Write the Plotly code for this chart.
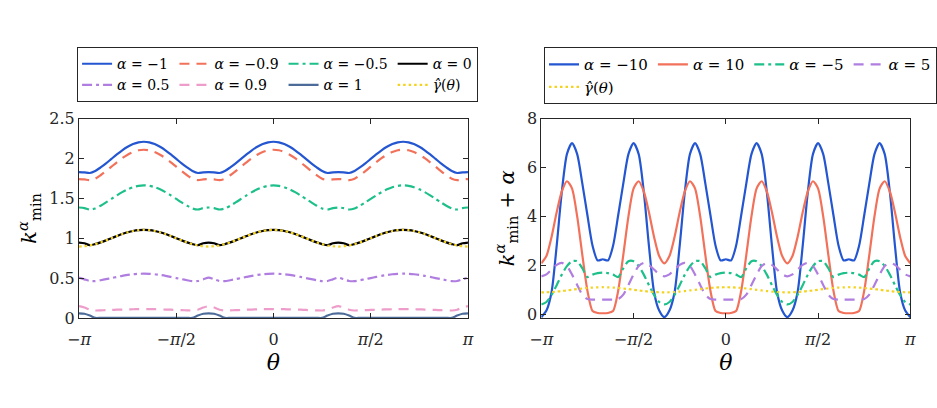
import numpy as np
import plotly.graph_objects as go

# ---------------- data ----------------
THETA_DEG = np.arange(-180, 181, 5)          # x grid, degrees
THETA = np.deg2rad(THETA_DEG)

X_TICKS = [-np.pi, -np.pi / 2, 0, np.pi / 2, np.pi]
X_TICK_TEXT = ["\u2212<i>\u03c0</i>", "\u2212<i>\u03c0</i>/2", "0", "<i>\u03c0</i>/2", "<i>\u03c0</i>"]
Y1_TICKS = [0, 0.5, 1, 1.5, 2, 2.5]
Y1_TICK_TEXT = ["0", "0.5", "1", "1.5", "2", "2.5"]
Y2_TICKS = [0, 2, 4, 6, 8]
Y2_TICK_TEXT = ["0", "2", "4", "6", "8"]

# left panel: k_min^alpha
K_M1 = [1.830, 1.826, 1.818, 1.843, 1.888, 1.939, 1.995, 2.051, 2.103, 2.147, 2.181, 2.203, 2.210,
        2.203, 2.181, 2.147, 2.103, 2.051, 1.995, 1.939, 1.888, 1.843, 1.818, 1.826, 1.830,
        1.826, 1.818, 1.843, 1.888, 1.939, 1.995, 2.051, 2.103, 2.147, 2.181, 2.203, 2.210,
        2.203, 2.181, 2.147, 2.103, 2.051, 1.995, 1.939, 1.888, 1.843, 1.818, 1.826, 1.830,
        1.826, 1.818, 1.843, 1.888, 1.939, 1.995, 2.051, 2.103, 2.147, 2.181, 2.203, 2.210,
        2.203, 2.181, 2.147, 2.103, 2.051, 1.995, 1.939, 1.888, 1.843, 1.818, 1.826, 1.830]
K_M09 = [1.742, 1.738, 1.728, 1.746, 1.790, 1.842, 1.897, 1.952, 2.004, 2.048, 2.081, 2.103, 2.110,
         2.103, 2.081, 2.048, 2.004, 1.952, 1.897, 1.842, 1.790, 1.746, 1.728, 1.738, 1.742,
         1.738, 1.728, 1.746, 1.790, 1.842, 1.897, 1.952, 2.004, 2.048, 2.081, 2.103, 2.110,
         2.103, 2.081, 2.048, 2.004, 1.952, 1.897, 1.842, 1.790, 1.746, 1.728, 1.738, 1.742,
         1.738, 1.728, 1.746, 1.790, 1.842, 1.897, 1.952, 2.004, 2.048, 2.081, 2.103, 2.110,
         2.103, 2.081, 2.048, 2.004, 1.952, 1.897, 1.842, 1.790, 1.746, 1.728, 1.738, 1.742]
K_M05 = [1.385, 1.378, 1.360, 1.373, 1.408, 1.449, 1.493, 1.537, 1.578, 1.613, 1.640, 1.657, 1.663,
         1.657, 1.640, 1.613, 1.578, 1.537, 1.493, 1.449, 1.408, 1.373, 1.360, 1.378, 1.385,
         1.378, 1.360, 1.373, 1.408, 1.449, 1.493, 1.537, 1.578, 1.613, 1.640, 1.657, 1.663,
         1.657, 1.640, 1.613, 1.578, 1.537, 1.493, 1.449, 1.408, 1.373, 1.360, 1.378, 1.385,
         1.378, 1.360, 1.373, 1.408, 1.449, 1.493, 1.537, 1.578, 1.613, 1.640, 1.657, 1.663,
         1.657, 1.640, 1.613, 1.578, 1.537, 1.493, 1.449, 1.408, 1.373, 1.360, 1.378, 1.385]
K_0 = [0.945, 0.936, 0.912, 0.926, 0.948, 0.973, 1.000, 1.027, 1.053, 1.074, 1.091, 1.101, 1.105,
       1.101, 1.091, 1.074, 1.053, 1.027, 1.000, 0.973, 0.948, 0.926, 0.912, 0.936, 0.945,
       0.936, 0.912, 0.926, 0.948, 0.973, 1.000, 1.027, 1.053, 1.074, 1.091, 1.101, 1.105,
       1.101, 1.091, 1.074, 1.053, 1.027, 1.000, 0.973, 0.948, 0.926, 0.912, 0.936, 0.945,
       0.936, 0.912, 0.926, 0.948, 0.973, 1.000, 1.027, 1.053, 1.074, 1.091, 1.101, 1.105,
       1.101, 1.091, 1.074, 1.053, 1.027, 1.000, 0.973, 0.948, 0.926, 0.912, 0.936, 0.945]
K_P05 = [0.505, 0.484, 0.463, 0.461, 0.473, 0.486, 0.500, 0.514, 0.528, 0.539, 0.548, 0.553, 0.555,
         0.553, 0.548, 0.539, 0.528, 0.514, 0.500, 0.486, 0.473, 0.461, 0.463, 0.484, 0.505,
         0.484, 0.463, 0.461, 0.473, 0.486, 0.500, 0.514, 0.528, 0.539, 0.548, 0.553, 0.555,
         0.553, 0.548, 0.539, 0.528, 0.514, 0.500, 0.486, 0.473, 0.461, 0.463, 0.484, 0.505,
         0.484, 0.463, 0.461, 0.473, 0.486, 0.500, 0.514, 0.528, 0.539, 0.548, 0.553, 0.555,
         0.553, 0.548, 0.539, 0.528, 0.514, 0.500, 0.486, 0.473, 0.461, 0.463, 0.484, 0.505]
K_P09 = [0.147, 0.130, 0.103, 0.093, 0.095, 0.097, 0.100, 0.103, 0.105, 0.107, 0.109, 0.110, 0.110,
         0.110, 0.109, 0.107, 0.105, 0.103, 0.100, 0.097, 0.095, 0.093, 0.103, 0.130, 0.147,
         0.130, 0.103, 0.093, 0.095, 0.097, 0.100, 0.103, 0.105, 0.107, 0.109, 0.110, 0.110,
         0.110, 0.109, 0.107, 0.105, 0.103, 0.100, 0.097, 0.095, 0.093, 0.103, 0.130, 0.147,
         0.130, 0.103, 0.093, 0.095, 0.097, 0.100, 0.103, 0.105, 0.107, 0.109, 0.110, 0.110,
         0.110, 0.109, 0.107, 0.105, 0.103, 0.100, 0.097, 0.095, 0.093, 0.103, 0.130, 0.147]
K_P1 = [0.058, 0.052, 0.030, 0, 0, 0, 0, 0, 0, 0, 0, 0, 0,
        0, 0, 0, 0, 0, 0, 0, 0, 0, 0.030, 0.052, 0.058,
        0.052, 0.030, 0, 0, 0, 0, 0, 0, 0, 0, 0, 0,
        0, 0, 0, 0, 0, 0, 0, 0, 0, 0.030, 0.052, 0.058,
        0.052, 0.030, 0, 0, 0, 0, 0, 0, 0, 0, 0, 0,
        0, 0, 0, 0, 0, 0, 0, 0, 0, 0.030, 0.052, 0.058]
GAMMA_HAT = [0.895, 0.899, 0.909, 0.926, 0.948, 0.973, 1.000, 1.027, 1.053, 1.074, 1.091, 1.101, 1.105,
             1.101, 1.091, 1.074, 1.053, 1.027, 1.000, 0.973, 0.948, 0.926, 0.909, 0.899, 0.895,
             0.899, 0.909, 0.926, 0.948, 0.973, 1.000, 1.027, 1.053, 1.074, 1.091, 1.101, 1.105,
             1.101, 1.091, 1.074, 1.053, 1.027, 1.000, 0.973, 0.948, 0.926, 0.909, 0.899, 0.895,
             0.899, 0.909, 0.926, 0.948, 0.973, 1.000, 1.027, 1.053, 1.074, 1.091, 1.101, 1.105,
             1.101, 1.091, 1.074, 1.053, 1.027, 1.000, 0.973, 0.948, 0.926, 0.909, 0.899, 0.895]

# right panel: k_min^alpha + alpha
KA_M10 = [-0.12, 0.15, 0.90, 2.80, 5.00, 6.55, 7.00, 6.55, 5.35, 4.05, 2.80, 2.20, 2.25,
          2.20, 2.80, 4.05, 5.35, 6.55, 7.00, 6.55, 5.00, 2.80, 0.90, 0.15, -0.12,
          0.15, 0.90, 2.80, 5.00, 6.55, 7.00, 6.55, 5.35, 4.05, 2.80, 2.20, 2.25,
          2.20, 2.80, 4.05, 5.35, 6.55, 7.00, 6.55, 5.00, 2.80, 0.90, 0.15, -0.12,
          0.15, 0.90, 2.80, 5.00, 6.55, 7.00, 6.55, 5.35, 4.05, 2.80, 2.20, 2.25,
          2.20, 2.80, 4.05, 5.35, 6.55, 7.00, 6.55, 5.00, 2.80, 0.90, 0.15, -0.12]
KA_P10 = [2.08, 2.38, 3.16, 4.17, 5.02, 5.44, 5.14, 4.00, 2.43, 0.96, 0.13, 0.05, 0.04,
          0.05, 0.13, 0.96, 2.43, 4.00, 5.14, 5.44, 5.02, 4.17, 3.16, 2.38, 2.08,
          2.38, 3.16, 4.17, 5.02, 5.44, 5.14, 4.00, 2.43, 0.96, 0.13, 0.05, 0.04,
          0.05, 0.13, 0.96, 2.43, 4.00, 5.14, 5.44, 5.02, 4.17, 3.16, 2.38, 2.08,
          2.38, 3.16, 4.17, 5.02, 5.44, 5.14, 4.00, 2.43, 0.96, 0.13, 0.05, 0.04,
          0.05, 0.13, 0.96, 2.43, 4.00, 5.14, 5.44, 5.02, 4.17, 3.16, 2.38, 2.08]
KA_M5 = [0.40, 0.50, 0.79, 1.19, 1.62, 1.97, 2.17, 2.17, 1.88, 1.52, 1.62, 1.68, 1.70,
         1.68, 1.62, 1.52, 1.88, 2.17, 2.17, 1.97, 1.62, 1.19, 0.79, 0.50, 0.40,
         0.50, 0.79, 1.19, 1.62, 1.97, 2.17, 2.17, 1.88, 1.52, 1.62, 1.68, 1.70,
         1.68, 1.62, 1.52, 1.88, 2.17, 2.17, 1.97, 1.62, 1.19, 0.79, 0.50, 0.40,
         0.50, 0.79, 1.19, 1.62, 1.97, 2.17, 2.17, 1.88, 1.52, 1.62, 1.68, 1.70,
         1.68, 1.62, 1.52, 1.88, 2.17, 2.17, 1.97, 1.62, 1.19, 0.79, 0.50, 0.40]
KA_P5 = [1.55, 1.63, 1.83, 2.02, 2.10, 1.97, 1.62, 1.20, 0.80, 0.62, 0.60, 0.60, 0.60,
         0.60, 0.60, 0.62, 0.80, 1.20, 1.62, 1.97, 2.10, 2.02, 1.83, 1.63, 1.55,
         1.63, 1.83, 2.02, 2.10, 1.97, 1.62, 1.20, 0.80, 0.62, 0.60, 0.60, 0.60,
         0.60, 0.60, 0.62, 0.80, 1.20, 1.62, 1.97, 2.10, 2.02, 1.83, 1.63, 1.55,
         1.63, 1.83, 2.02, 2.10, 1.97, 1.62, 1.20, 0.80, 0.62, 0.60, 0.60, 0.60,
         0.60, 0.60, 0.62, 0.80, 1.20, 1.62, 1.97, 2.10, 2.02, 1.83, 1.63, 1.55]

# ---------------- styles ----------------
BLUE = "#2356d0"
SALMON = "#f2715a"
GREEN = "#1dbf8a"
BLACK = "#000000"
PURPLE = "#b07ee0"
PINK = "#ee9dca"
SLATE = "#4c6b99"
YELLOW = "#f4d320"

DASH = "10px,7px"
DASHDOT = "10px,4px,3px,4px"
DOT = "2.5px,3px"
LW = 2.2
FONT = "DejaVu Serif"
AX = "#262626"

fig = go.Figure()


def add(y, name, color, dash, xa, ya, legend, group):
    fig.add_trace(go.Scatter(
        x=THETA, y=y, mode="lines", name=name,
        line=dict(color=color, width=LW, dash=dash, shape="spline", smoothing=0.7),
        xaxis=xa, yaxis=ya, legend=legend, legendgroup=group, showlegend=True))


A = "<i>\u03b1</i> = "
# left panel traces (grouped into legend columns)
add(K_M1, A + "\u22121", BLUE, "solid", "x", "y", "legend", "L1")
add(K_M09, A + "\u22120.9", SALMON, DASH, "x", "y", "legend", "L2")
add(K_M05, A + "\u22120.5", GREEN, DASHDOT, "x", "y", "legend", "L3")
add(K_0, A + "0", BLACK, "solid", "x", "y", "legend", "L4")
add(K_P05, A + "0.5", PURPLE, DASHDOT, "x", "y", "legend", "L1")
add(K_P09, A + "0.9", PINK, DASH, "x", "y", "legend", "L2")
add(K_P1, A + "1", SLATE, "solid", "x", "y", "legend", "L3")
add(GAMMA_HAT, "<i>\u03b3\u0302</i>(<i>\u03b8</i>)", YELLOW, DOT, "x", "y", "legend", "L4")

# right panel traces
add(KA_M10, A + "\u221210", BLUE, "solid", "x2", "y2", "legend2", "R1")
add(KA_P10, A + "10", SALMON, "solid", "x2", "y2", "legend2", "R2")
add(KA_M5, A + "\u22125", GREEN, DASHDOT, "x2", "y2", "legend2", "R3")
add(KA_P5, A + "5", PURPLE, DASH, "x2", "y2", "legend2", "R4")
add(GAMMA_HAT, "<i>\u03b3\u0302</i>(<i>\u03b8</i>)", YELLOW, DOT, "x2", "y2", "legend2", "R1")

W, H = 937, 408
axis_common = dict(showline=True, linecolor=AX, linewidth=1, mirror="ticks",
                   ticks="inside", ticklen=5, tickcolor=AX, tickwidth=1,
                   showgrid=False, zeroline=False,
                   tickfont=dict(family=FONT, size=16, color=AX))

legend_common = dict(orientation="h", yanchor="top", y=1 - 40 / H, xanchor="left",
                     bordercolor=AX, borderwidth=1, bgcolor="white",
                     traceorder="grouped", tracegroupgap=0, itemwidth=30,
                     itemclick=False, itemdoubleclick=False)

fig.update_layout(
    width=W, height=H,
    margin=dict(l=0, r=0, t=0, b=0),
    paper_bgcolor="white", plot_bgcolor="white",
    font=dict(family=FONT, color=AX),
    xaxis=dict(domain=[69 / W, 469.5 / W], range=[-np.pi, np.pi],
               tickvals=X_TICKS, ticktext=X_TICK_TEXT, anchor="y", ticklabelstandoff=7,
               title=dict(text="<i>\u03b8</i>", font=dict(family=FONT, size=22, color="#000000"), standoff=6),
               **axis_common),
    yaxis=dict(domain=[(H - 324) / H, (H - 115) / H], range=[0, 2.5],
               tickvals=Y1_TICKS, ticktext=Y1_TICK_TEXT, anchor="x",
               title=dict(text="<i>k</i><sup><i>\u03b1</i></sup><sub>min</sub>",
                          font=dict(family=FONT, size=21, color="#000000"), standoff=6),
               **axis_common),
    xaxis2=dict(domain=[545 / W, 925 / W], range=[-np.pi, np.pi],
                tickvals=X_TICKS, ticktext=X_TICK_TEXT, anchor="y2", ticklabelstandoff=7,
                title=dict(text="<i>\u03b8</i>", font=dict(family=FONT, size=22, color="#000000"), standoff=6),
                **axis_common),
    yaxis2=dict(domain=[(H - 324) / H, (H - 115) / H], range=[-0.15, 8],
                tickvals=Y2_TICKS, ticktext=Y2_TICK_TEXT, anchor="x2",
                title=dict(text="<i>k</i><sup><i>\u03b1</i></sup><sub>min</sub> + <i>\u03b1</i>",
                           font=dict(family=FONT, size=21, color="#000000"), standoff=6),
                **axis_common),
    legend=dict(x=67 / W, font=dict(family=FONT, size=14, color="#000000"), **legend_common),
    legend2=dict(x=548 / W, font=dict(family=FONT, size=15, color="#000000"), **legend_common),
)

fig.write_html("out.html")
